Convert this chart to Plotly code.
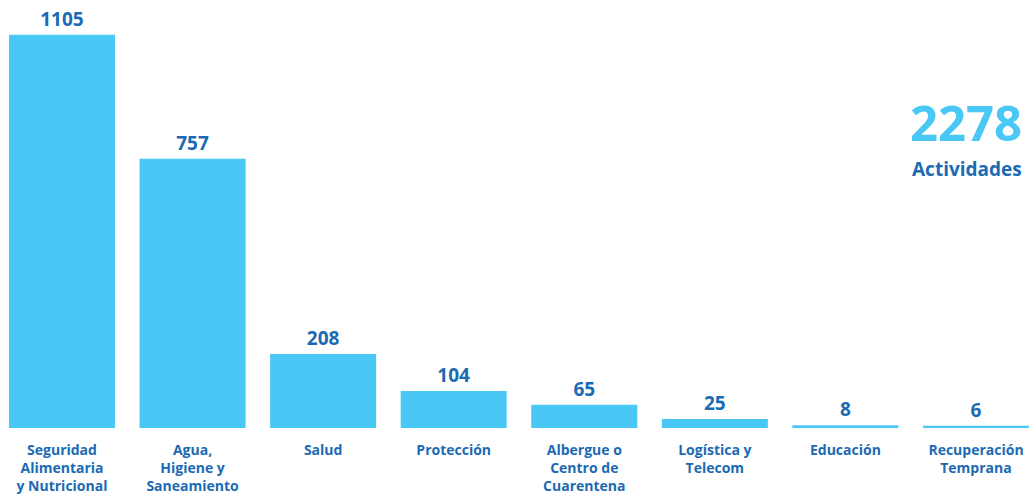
import plotly.graph_objects as go

categories = ["Seguridad<br>Alimentaria<br>y Nutricional", "Agua,<br>Higiene y<br>Saneamiento", "Salud",
              "Protección", "Albergue o<br>Centro de<br>Cuarentena", "Logística y<br>Telecom",
              "Educación", "Recuperación<br>Temprana"]
values = [1105, 757, 208, 104, 65, 25, 8, 6]
total_value = "2278"
total_label = "Actividades"

BAR = "#4AC8F5"
DARK = "#1B6AB3"
FONT = "Open Sans"

x = list(range(len(categories)))
fig = go.Figure(go.Bar(
    x=x, y=values, marker_color=BAR, marker_line_width=0,
    text=[str(v) for v in values], textposition="outside",
    textfont=dict(family=FONT, size=19, color=DARK, weight="bold"),
    cliponaxis=False,
))
fig.update_layout(
    width=1035, height=497, margin=dict(l=0, r=0, t=0, b=69),
    paper_bgcolor="white", plot_bgcolor="white",
    bargap=0.188, showlegend=False,
    font=dict(family=FONT, color=DARK),
)
fig.update_xaxes(range=[-0.4748, 7.452], tickmode="array", tickvals=x, ticktext=categories,
                 tickfont=dict(family=FONT, size=14, color=DARK, weight="bold"),
                 ticklabelstandoff=12,
                 showgrid=False, zeroline=False, showline=False, ticks="", ticklen=0)
fig.update_yaxes(range=[0, 1203], visible=False, showgrid=False, zeroline=False)
fig.add_annotation(xref="paper", yref="paper", x=1024/1035, y=1-122/428, xanchor="right", yanchor="middle",
                   text="<b>" + total_value + "</b>", showarrow=False,
                   font=dict(family=FONT, size=49, color=BAR))
fig.add_annotation(xref="paper", yref="paper", x=1024/1035, y=1-169/428, xanchor="right", yanchor="middle",
                   text="<b>" + total_label + "</b>", showarrow=False,
                   font=dict(family=FONT, size=19, color=DARK))
fig.write_html("out.html")
